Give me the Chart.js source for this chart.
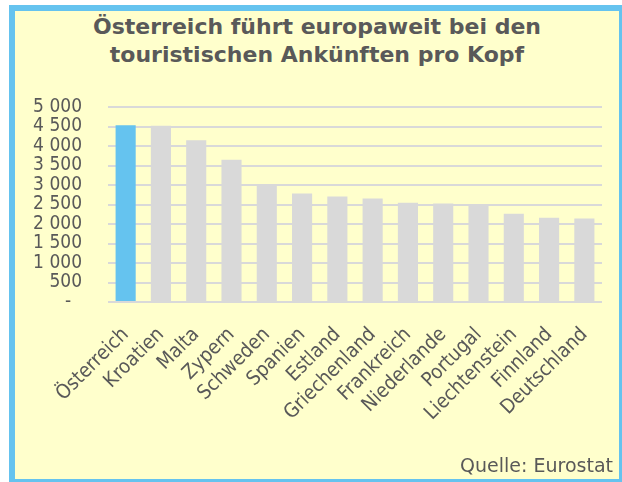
<!DOCTYPE html>
<html>
<head>
<meta charset="utf-8">
<script src="https://cdn.jsdelivr.net/npm/chart.js@4"></script>
<style>
  html, body { margin: 0; padding: 0; background: #ffffff; }
  #wrap { position: relative; width: 622px; height: 482px; overflow: hidden; }
  #panel {
    position: absolute; left: 9px; top: 5px;
    width: 604px; height: 468px;
    border: 6px solid #65C3EF;
    background: #FFFFCC;
  }
  #title {
    position: absolute; left: 15px; top: 13px; width: 604px;
    text-align: center; color: #595959;
    font: bold 22px "DejaVu Sans", sans-serif; line-height: 28px;
  }
  #source {
    position: absolute; right: 9px; top: 456px;
    color: #595959; font: 19px "DejaVu Sans", sans-serif; line-height: 19px;
  }
  #chart { position: absolute; left: 0; top: 0; }
</style>
</head>
<body>
<div id="wrap">
  <div id="panel"></div>
  <div id="title">Österreich führt europaweit bei den<br>touristischen Ankünften pro Kopf</div>
  <canvas id="chart" width="622" height="482"></canvas>
  <div id="source">Quelle: Eurostat</div>
</div>
<script>
// tourist arrivals per 1000 inhabitants
const countries = ['Österreich', 'Kroatien', 'Malta', 'Zypern', 'Schweden', 'Spanien', 'Estland',
  'Griechenland', 'Frankreich', 'Niederlande', 'Portugal', 'Liechtenstein', 'Finnland', 'Deutschland'];
const arrivals = [4530, 4520, 4150, 3650, 3005, 2780, 2705, 2655, 2545, 2525, 2475, 2260, 2160, 2140];
const highlighted = 'Österreich';

const yTicks = [0, 500, 1000, 1500, 2000, 2500, 3000, 3500, 4000, 4500, 5000];
const yTickLabels = ['-\u2007', '500', '1 000', '1 500', '2 000', '2 500', '3 000', '3 500', '4 000', '4 500', '5 000'];

const TEXT = '#595959';
const GRID = '#D9D9D9';
const condensed = '"DejaVu Sans Condensed", "DejaVu Sans", sans-serif';

const ctx = document.getElementById('chart').getContext('2d');

new Chart(ctx, {
  type: 'bar',
  data: {
    labels: countries,
    datasets: [{
      data: arrivals,
      backgroundColor: countries.map(c => c === highlighted ? '#65C3EF' : '#D9D9D9'),
      barPercentage: 0.57,
      categoryPercentage: 1
    }]
  },
  options: {
    responsive: false,
    animation: false,
    devicePixelRatio: 1,
    layout: { padding: { left: 0, top: 107, right: 20, bottom: 0 } },
    plugins: {
      legend: { display: false },
      tooltip: { enabled: false }
    },
    scales: {
      x: {
        grid: { display: false },
        border: { display: false },
        ticks: {
          color: TEXT,
          font: { family: condensed, size: 20 },
          minRotation: 45,
          maxRotation: 45,
          autoSkip: false,
          padding: 13
        },
        afterFit: scale => { scale.height = 180; }
      },
      y: {
        min: 0,
        max: 5000,
        border: { display: false },
        grid: { color: GRID, lineWidth: 2, drawTicks: false },
        ticks: {
          color: TEXT,
          font: { family: condensed, size: 19 },
          padding: 26,
          autoSkip: false,
          callback: (value, index) => yTickLabels[index]
        },
        afterBuildTicks: scale => { scale.ticks = yTicks.map(v => ({ value: v })); },
        afterFit: scale => { scale.width = 108; }
      }
    }
  }
});
</script>
</body>
</html>
